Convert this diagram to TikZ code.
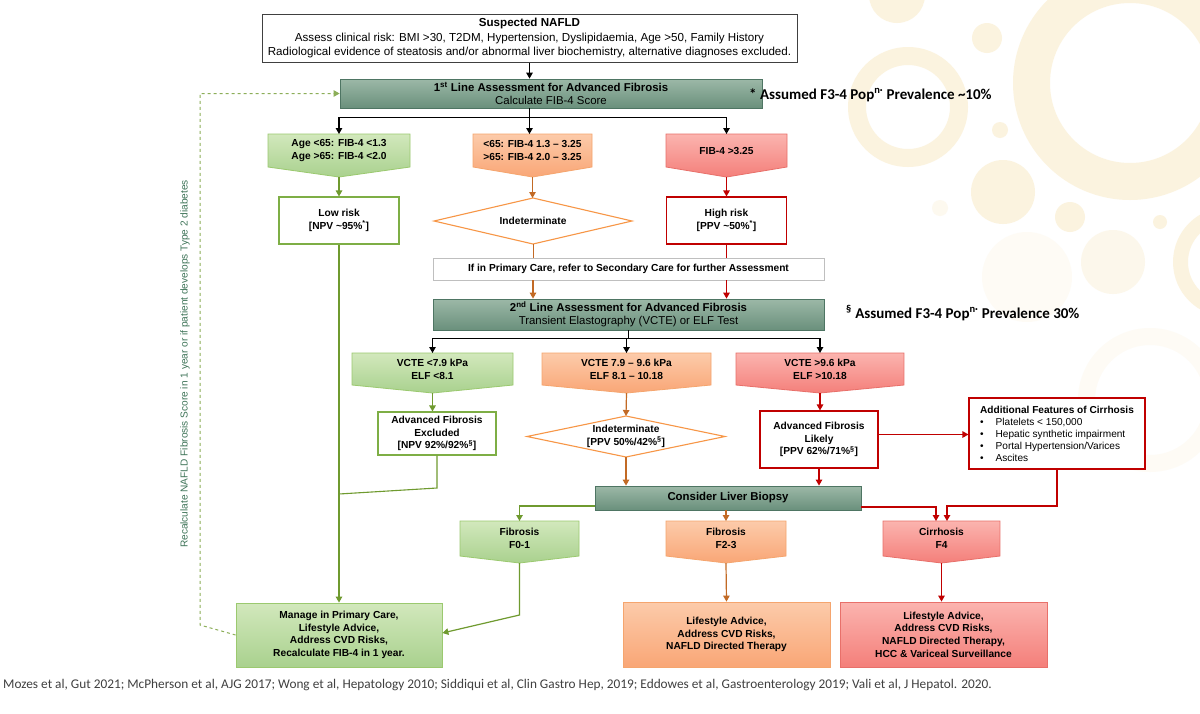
\documentclass[tikz,border=0pt]{standalone}
\usepackage{fontspec}
\setmainfont{Liberation Sans}
\newfontfamily\calfont{Carlito}
\usetikzlibrary{arrows.meta,shapes.geometric,calc}
\definecolor{hdrT}{HTML}{9CB8A7}
\definecolor{hdrB}{HTML}{6A907C}
\definecolor{hdrD}{HTML}{4E7563}
\definecolor{grT}{HTML}{D2E8BC}
\definecolor{grB}{HTML}{A9D18E}
\definecolor{grE}{HTML}{9BC96F}
\definecolor{grL}{HTML}{6F9A2F}
\definecolor{grBox}{HTML}{7EAE45}
\definecolor{orT}{HTML}{FCCBAA}
\definecolor{orB}{HTML}{F9A676}
\definecolor{orE}{HTML}{F5A56E}
\definecolor{orL}{HTML}{C26A25}
\definecolor{orD}{HTML}{F79646}
\definecolor{rdT}{HTML}{FBB4AF}
\definecolor{rdB}{HTML}{F47F7A}
\definecolor{rdE}{HTML}{E8706A}
\definecolor{rdL}{HTML}{C00000}
\definecolor{deco}{HTML}{F7E2B0}
\definecolor{fbtxt}{HTML}{3E7458}
\definecolor{foot}{HTML}{404040}
\newcommand\chevron[8]{%
  \path[#7] (#2,#4) -- (#3,#4) -- (#3,#5) -- ({(#2+#3)/2},#6) -- (#2,#5) -- cycle;
  \node[txt] (#1) at ({(#2+#3)/2},{(#4+#5)/2}) {#8};
  \coordinate (#1-top) at ({(#2+#3)/2},#4);
  \coordinate (#1-tip) at ({(#2+#3)/2},#6);
}
% name, cx, cy, half width, half height, text
\newcommand\diam[6]{%
  \path[draw=orD, fill=white, line width=1.1pt] ({#2-#4},#3) -- (#2,{#3-#5}) -- ({#2+#4},#3) -- (#2,{#3+#5}) -- cycle;
  \node[txt] (#1) at (#2,#3) {#6};
  \coordinate (#1-top) at (#2,{#3-#5});
  \coordinate (#1-bot) at (#2,{#3+#5});
}
\begin{document}
\begin{tikzpicture}[x=1pt,y=-1pt,
  txt/.style={font=\fontsize{10.2}{12.7}\selectfont\bfseries, align=center, inner sep=0pt},
  wbox/.style={txt, draw, fill=white, line width=1.1pt},
  hdr/.style={draw=hdrD, line width=0.8pt, top color=hdrT, bottom color=hdrB, align=center, inner sep=0pt},
  grfill/.style={top color=grT, bottom color=grB, draw=grE, line width=0.8pt},
  orfill/.style={top color=orT, bottom color=orB, draw=orE, line width=0.8pt},
  rdfill/.style={top color=rdT, bottom color=rdB, draw=rdE, line width=0.8pt},
  arr/.style={-{Triangle[length=6pt,width=6.5pt]}, line width=1.2pt},
  blk/.style={line width=1.2pt, black},
  gl/.style={line width=1.5pt, grL},
  ol/.style={line width=1.5pt, orL},
  rl/.style={line width=1.5pt, rdL},
  decofill/.style={fill=deco, opacity=0.4}
]
\useasboundingbox[fill=white] (0,0) rectangle (1200,713);

% decorative background circles
\fill[decofill, even odd rule] (1130,83) circle (117) (1130,83) circle (80);
\fill[decofill, even odd rule] (908,107) circle (60) (908,107) circle (42);
\fill[decofill, even odd rule] (1228,262) circle (55) (1228,262) circle (40);
\fill[decofill] (897,-5) circle (28);
\fill[decofill] (987,38) circle (15);
\fill[decofill] (1000,130) circle (8);
\fill[decofill] (1003,192) circle (32);
\fill[decofill] (1070,217) circle (15);
\fill[decofill] (1160,222) circle (7);
\fill[fill=deco, opacity=0.25] (1113,262) circle (32);
\fill[fill=deco, opacity=0.12] (1027,277) circle (45);
\fill[fill=deco, opacity=0.2] (940,208) circle (8);
\fill[fill=deco, opacity=0.12, even odd rule] (1150,400) circle (72) (1150,400) circle (55);

% top box
\node[draw=black!75, line width=1pt, fill=white, minimum width=535, minimum height=48, align=center, inner sep=0pt,
      font=\fontsize{11.6}{14.5}\selectfont] (susp) at (529.5,38)
  {\textbf{Suspected NAFLD}\\Assess clinical risk: BMI >30, T2DM, Hypertension, Dyslipidaemia, Age >50, Family History\\Radiological evidence of steatosis and/or abnormal liver biochemistry, alternative diagnoses excluded.};

% first line
\node[hdr, minimum width=422, minimum height=29, font=\fontsize{11.4}{13.5}\selectfont] (l1) at (551,93.5)
  {\textbf{1\textsuperscript{st} Line Assessment for Advanced Fibrosis}\\Calculate FIB-4 Score};
\node[anchor=west, inner sep=0pt, font=\calfont\fontsize{15}{17}\selectfont\bfseries] (note1) at (749,95)
  {* Assumed F3-4 Pop\textsuperscript{n·} Prevalence \textasciitilde 10\%};

% row 1 chevrons
\chevron{g1}{268}{410}{134}{167}{177}{grfill}{Age <65: FIB-4 <1.3\\Age >65: FIB-4 <2.0}
\chevron{o1}{473}{592}{134}{167}{177}{orfill}{<65: FIB-4 1.3 – 3.25\\>65: FIB-4 2.0 – 3.25}
\chevron{r1}{666}{787}{134}{167}{177}{rdfill}{FIB-4 >3.25}

% row 1 results
\node[wbox, draw=grBox, minimum width=120, minimum height=47] (low) at (339,220.5) {Low risk\\{}[NPV \textasciitilde 95\%\textsuperscript{*}]};
\diam{d1}{533}{221}{99}{23}{Indeterminate}
\node[wbox, draw=rdL, minimum width=120, minimum height=47] (high) at (726.5,220.5) {High risk\\{}[PPV \textasciitilde 50\%\textsuperscript{*}]};

% refer box
\node[txt, draw=black!25, fill=white, line width=0.8pt, minimum width=391, minimum height=22] (refer) at (628.5,269)
  {If in Primary Care, refer to Secondary Care for further Assessment};

% second line
\node[hdr, minimum width=391, minimum height=31, font=\fontsize{11.4}{13.5}\selectfont] (l2) at (628.5,314.5)
  {\textbf{2\textsuperscript{nd} Line Assessment for Advanced Fibrosis}\\Transient Elastography (VCTE) or ELF Test};
\node[anchor=west, inner sep=0pt, font=\calfont\fontsize{15}{17}\selectfont\bfseries] (note2) at (846,313)
  {\textsuperscript{§} Assumed F3-4 Pop\textsuperscript{n·} Prevalence 30\%};

% row 2 chevrons
\chevron{g2}{352}{513}{353}{385}{393}{grfill}{VCTE <7.9 kPa\\ELF <8.1}
\chevron{o2}{542}{711}{353}{385}{393}{orfill}{VCTE 7.9 – 9.6 kPa\\ELF 8.1 – 10.18}
\chevron{r2}{736}{904}{353}{385}{393}{rdfill}{VCTE >9.6 kPa\\ELF >10.18}

% row 2 results
\node[wbox, draw=grBox, minimum width=118, minimum height=43] (excl) at (437,433.5) {Advanced Fibrosis\\Excluded\\{}[NPV 92\%/92\%\textsuperscript{§}]};
\diam{d2}{626}{436.5}{99}{20.5}{Indeterminate\\{}[PPV 50\%/42\%\textsuperscript{§}]}
\node[wbox, draw=rdL, minimum width=118, minimum height=57] (likely) at (819,439.5) {Advanced Fibrosis\\Likely\\{}[PPV 62\%/71\%\textsuperscript{§}]};
\node[draw=rdL, fill=white, line width=1.1pt, minimum width=176, minimum height=71, align=left, inner sep=0pt,
      font=\fontsize{10.1}{12}\selectfont] (addl) at (1057,433.5)
  {\textbf{Additional Features of Cirrhosis}\\
   \textbullet\hspace{12pt}Platelets < 150,000\\
   \textbullet\hspace{12pt}Hepatic synthetic impairment\\
   \textbullet\hspace{12pt}Portal Hypertension/Varices\\
   \textbullet\hspace{12pt}Ascites};

% biopsy
\node[hdr, minimum width=266, minimum height=24, font=\fontsize{11.4}{13.5}\selectfont\bfseries] (bx) at (728,498) {Consider Liver Biopsy};

% row 3 chevrons
\chevron{f01}{460}{579}{521}{556}{563}{grfill}{Fibrosis\\F0-1}
\chevron{f23}{666}{786}{521}{556}{563}{orfill}{Fibrosis\\F2-3}
\chevron{f4}{883}{1000}{521}{556}{563}{rdfill}{Cirrhosis\\F4}

% bottom boxes
\node[txt, top color=grT, bottom color=grB, draw=grE, line width=0.8pt, minimum width=206, minimum height=64] (manage) at (339,635)
  {Manage in Primary Care,\\Lifestyle Advice,\\Address CVD Risks,\\Recalculate FIB-4 in 1 year.};
\node[txt, top color=orT, bottom color=orB, draw=orE, line width=0.8pt, minimum width=207, minimum height=65] (oth) at (726.5,634.5)
  {Lifestyle Advice,\\Address CVD Risks,\\NAFLD Directed Therapy};
\node[txt, top color=rdT, bottom color=rdB, draw=rdE, line width=0.8pt, minimum width=207, minimum height=65] (rth) at (943.5,634.5)
  {Lifestyle Advice,\\Address CVD Risks,\\NAFLD Directed Therapy,\\HCC \& Variceal Surveillance};

% feedback text
\node[rotate=90, text=fbtxt, inner sep=0pt, font=\fontsize{10.1}{12}\selectfont] (fbt) at (185,364)
  {Recalculate NAFLD Fibrosis Score in 1 year or if patient develops Type 2 diabetes};

% footer
\node[anchor=west, inner sep=0pt, text=foot, font=\calfont\fontsize{13.3}{15}\selectfont] (refs) at (3,685)
  {Mozes et al, Gut 2021; McPherson et al, AJG 2017; Wong et al, Hepatology 2010; Siddiqui et al, Clin Gastro Hep, 2019; Eddowes et al, Gastroenterology 2019; Vali et al, J Hepatol. 2020.};

% ---------- connectors ----------
\draw[blk, arr] (susp.south) -- (susp.south |- l1.north);
\coordinate (b0) at (susp.south |- l1.south);
\coordinate (b1) at ($(b0)+(0,9)$);
\draw[blk] (b0) -- (b1);
\draw[blk, arr] (b1) -| (g1-top);
\draw[blk, arr] (b1) -- (b1 |- o1-top);
\draw[blk, arr] (b1) -| (r1-top);

\draw[gl, arr] (g1-tip) -- (low.north);
\draw[ol, arr] (o1-tip) -- (o1-tip |- d1-top);
\draw[rl, arr] (r1-tip) -- (high.north);

\draw[ol, line width=1pt] (d1-bot) -- (d1-bot |- refer.north);
\draw[rl, line width=1pt] (high.south) -- (high.south |- refer.north);
\draw[ol, arr] (d1-bot |- refer.south) -- (d1-bot |- l2.north);
\draw[rl, arr] (high.south |- refer.south) -- (high.south |- l2.north);

\coordinate (b2) at ($(l2.south)+(0,8)$);
\draw[blk] (l2.south) -- (b2);
\draw[blk, arr] (b2) -| (g2-top);
\draw[blk, arr] (b2) -| (o2-top);
\draw[blk, arr] (b2) -| (r2-top);

\draw[gl, arr] (g2-tip) -- (g2-tip |- excl.north);
\draw[ol, arr] (o2-tip) -- (d2-top);
\draw[rl, arr] (r2-tip) -- (r2-tip |- likely.north);
\coordinate (lkE) at ([yshift=5pt]likely.east);
\draw[rl, arr] (lkE) -- (lkE -| addl.west);

\draw[ol, arr] (d2-bot) -- (d2-bot |- bx.north);
\draw[rl, arr] (likely.south) -- (likely.south |- bx.north);

\coordinate (bxL) at ([yshift=-8pt]bx.west);
\coordinate (bxR1) at ([yshift=-9pt]bx.east);
\coordinate (bxR2) at ([yshift=-8pt]bx.east);
\coordinate (f4L) at ([xshift=-5.5pt]f4-top);
\coordinate (f4R) at ([xshift=5.5pt]f4-top);
\coordinate (rj) at (addl.south |- bxR2);
\draw[gl, arr] (bxL) -| (f01-top);
\draw[ol, arr] (f23-top |- bx.south) -- (f23-top);
\draw[rl, arr] (bxR1) -| (f4L);
\draw[rl, arr] (addl.south) -- (rj) -| (f4R);

\draw[gl, arr] (low.south) -- (manage.north);
\coordinate (ex1) at (437,488);
\coordinate (ex2) at (339,494);
\draw[gl, line width=1.1pt] (excl.south) -- (ex1) -- (ex2);
\coordinate (f1) at (519.5,615);
\coordinate (mgE) at ([yshift=2pt]manage.east);
\draw[gl, line width=1.1pt, arr] (f01-tip) -- (f1) -- (mgE);
\draw[ol, arr] (f23-tip) -- (oth.north);
\draw[rl, arr] (f4-tip) -- (f4-tip |- rth.north);

% feedback loop
\coordinate (fbA) at (200,625);
\coordinate (fbB) at (fbA |- l1.west);
\draw[grL!80, line width=1pt, dashed, -{Triangle[length=6pt,width=6.5pt]}] (manage.west) -- (fbA) -- (fbB) -- (l1.west);
\end{tikzpicture}
\end{document}
